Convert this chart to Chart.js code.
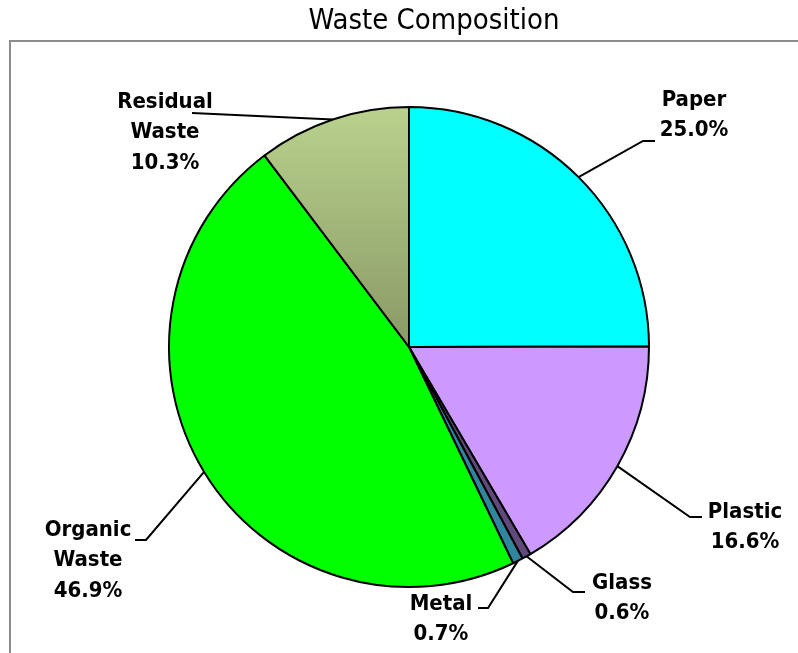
<!DOCTYPE html>
<html lang="en">
  <head>
    <meta charset="UTF-8" />
    <title>Waste Composition</title>
    <script src="https://cdn.jsdelivr.net/npm/chart.js"></script>
    <style>
      html, body { margin: 0; padding: 0; background: #fff; }
      #wrap { position: relative; width: 798px; height: 653px; }
    </style>
  </head>
  <body>
    <div id="wrap"><canvas id="wasteChart" width="798" height="653"></canvas></div>

    <script>
      // Data
      const categories = ["Paper", "Plastic", "Glass", "Metal", "Organic Waste", "Residual Waste"];
      const shares = [25.0, 16.6, 0.6, 0.7, 46.9, 10.3];
      const sliceColors = ["#00FFFF", "#CC99FF", "#604A7B", "#31859C", "#00FF00", null];

      // label placement: elbow point, end of short horizontal, text anchor
      const labelLayout = [
        { elbow: [643, 141], end: [655, 141], lines: ["Paper", "25.0%"], tx: 694, ty: 100 },
        { elbow: [690, 517], end: [702, 517], lines: ["Plastic", "16.6%"], tx: 745, ty: 512 },
        { elbow: [573, 592], end: [585, 592], lines: ["Glass", "0.6%"], tx: 622, ty: 583 },
        { elbow: [488, 608], end: [478, 608], lines: ["Metal", "0.7%"], tx: 441, ty: 604 },
        { elbow: [146, 540], end: [135, 540], lines: ["Organic", "Waste", "46.9%"], tx: 88, ty: 530 },
        { elbow: [192, 113], end: [192, 113], lines: ["Residual", "Waste", "10.3%"], tx: 165, ty: 102 },
      ];

      const labelFont = 'bold 22px "DejaVu Sans Condensed", "Liberation Sans", sans-serif';
      const titleFont = '29px "DejaVu Sans Condensed", "Liberation Sans", sans-serif';

      function residualFill(context) {
        const chart = context.chart;
        const area = chart.chartArea;
        if (!area) return "#A8BF7C";
        const cy = (area.top + area.bottom) / 2;
        const r = Math.min(area.right - area.left, area.bottom - area.top) / 2;
        const g = chart.ctx.createLinearGradient(0, cy - r, 0, cy);
        g.addColorStop(0, "#B9D28D");
        g.addColorStop(1, "#8A9966");
        return g;
      }

      const decorPlugin = {
        id: "decor",
        beforeDraw(chart) {
          const ctx = chart.ctx;
          ctx.save();
          ctx.strokeStyle = "#8c8c8c";
          ctx.lineWidth = 2;
          ctx.strokeRect(10, 41, 900, 700);
          ctx.fillStyle = "#000";
          ctx.font = titleFont;
          ctx.textAlign = "center";
          ctx.textBaseline = "middle";
          ctx.fillText("Waste Composition", 434, 21);
          ctx.restore();
        },
        afterDraw(chart) {
          const ctx = chart.ctx;
          const arcs = chart.getDatasetMeta(0).data;
          ctx.save();
          ctx.strokeStyle = "#000";
          ctx.lineWidth = 2;
          ctx.fillStyle = "#000";
          ctx.font = labelFont;
          ctx.textBaseline = "middle";
          ctx.textAlign = "center";
          arcs.forEach((arc, i) => {
            const lay = labelLayout[i];
            const mid = (arc.startAngle + arc.endAngle) / 2;
            const sx = arc.x + Math.cos(mid) * arc.outerRadius;
            const sy = arc.y + Math.sin(mid) * arc.outerRadius;
            ctx.beginPath();
            ctx.moveTo(sx, sy);
            ctx.lineTo(lay.elbow[0], lay.elbow[1]);
            ctx.lineTo(lay.end[0], lay.end[1]);
            ctx.stroke();
            lay.lines.forEach((t, k) => {
              ctx.fillText(t, lay.tx, lay.ty + k * 30.5);
            });
          });
          ctx.restore();
        },
      };

      new Chart(document.getElementById("wasteChart"), {
        type: "pie",
        data: {
          labels: categories,
          datasets: [
            {
              data: shares,
              backgroundColor: (c) => sliceColors[c.dataIndex] || residualFill(c),
              borderColor: "#000",
              borderWidth: 2,
            },
          ],
        },
        options: {
          responsive: false,
          animation: false,
          layout: { padding: { left: 168, right: 148, top: 106, bottom: 65 } },
          plugins: {
            legend: { display: false },
            tooltip: { enabled: false },
            title: { display: false },
          },
        },
        plugins: [decorPlugin],
      });
    </script>
  </body>
</html>
